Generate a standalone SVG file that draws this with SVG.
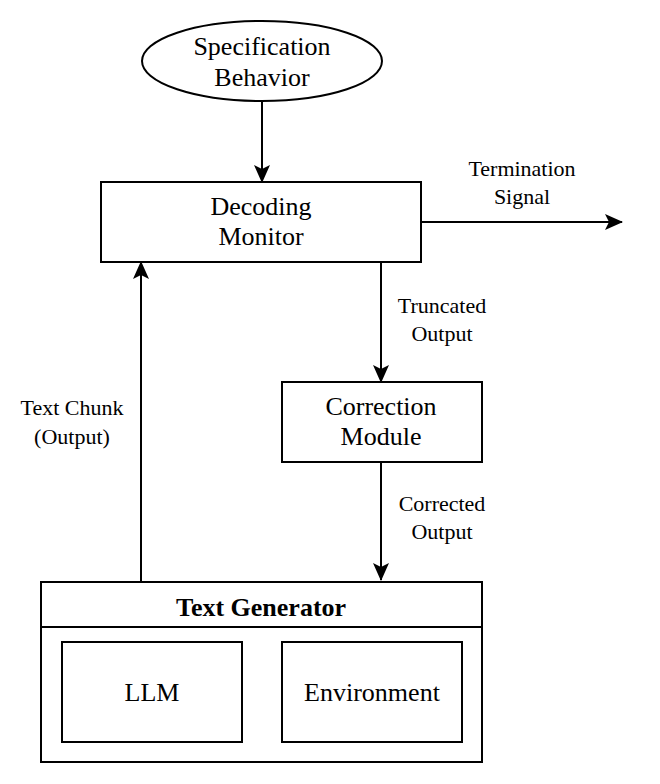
<svg xmlns="http://www.w3.org/2000/svg" width="660" height="784" viewBox="0 0 660 784">
<style>
.box{fill:#fff;stroke:#000;stroke-width:2}
.n{font-family:'Liberation Serif','DejaVu Serif',serif;font-size:26px;text-anchor:middle;fill:#000}
.b{font-weight:bold}
.l{font-family:'Liberation Serif','DejaVu Serif',serif;font-size:22px;text-anchor:middle;fill:#000}
.c{stroke:#000;stroke-width:2;fill:none}
</style>
<defs>
<marker id="ah" viewBox="0 0 18 16" refX="17" refY="8" markerWidth="18" markerHeight="16" markerUnits="userSpaceOnUse" orient="auto">
<path d="M0,0 L18,8 L0,16 L4,8 Z" fill="#000"/>
</marker>
</defs>
<rect width="660" height="784" fill="#fff"/>
<g id="spec">
<ellipse class="box" cx="262" cy="61" rx="120" ry="40"/>
<text class="n" x="262" y="55">Specification</text>
<text class="n" x="262" y="86">Behavior</text>
</g>
<g id="monitor">
<rect class="box" x="101" y="182" width="320" height="80"/>
<text class="n" x="261" y="215">Decoding</text>
<text class="n" x="261" y="245">Monitor</text>
</g>
<g id="correction">
<rect class="box" x="282" y="382" width="200" height="80"/>
<text class="n" x="381" y="415">Correction</text>
<text class="n" x="381" y="445">Module</text>
</g>
<g id="generator">
<rect class="box" x="41" y="582" width="441" height="180"/>
<line class="c" x1="41" y1="627" x2="482" y2="627"/>
<text class="n b" x="261" y="616">Text Generator</text>
<g id="llm">
<rect class="box" x="62" y="642" width="180" height="100"/>
<text class="n" x="152" y="701">LLM</text>
</g>
<g id="env">
<rect class="box" x="282" y="642" width="180" height="100"/>
<text class="n" x="372" y="701">Environment</text>
</g>
</g>
<g id="connectors">
<line class="c" x1="262" y1="101" x2="262" y2="182" marker-end="url(#ah)"/>
<line class="c" x1="421" y1="222" x2="622" y2="222" marker-end="url(#ah)"/>
<line class="c" x1="381" y1="262" x2="381" y2="382" marker-end="url(#ah)"/>
<line class="c" x1="381" y1="462" x2="381" y2="580" marker-end="url(#ah)"/>
<line class="c" x1="141" y1="582" x2="141" y2="262" marker-end="url(#ah)"/>
<text class="l" x="522" y="176">Termination</text>
<text class="l" x="522" y="204">Signal</text>
<text class="l" x="442" y="313">Truncated</text>
<text class="l" x="442" y="341">Output</text>
<text class="l" x="442" y="511">Corrected</text>
<text class="l" x="442" y="539">Output</text>
<text class="l" x="72" y="415">Text Chunk</text>
<text class="l" x="72" y="444">(Output)</text>
</g>
</svg>
